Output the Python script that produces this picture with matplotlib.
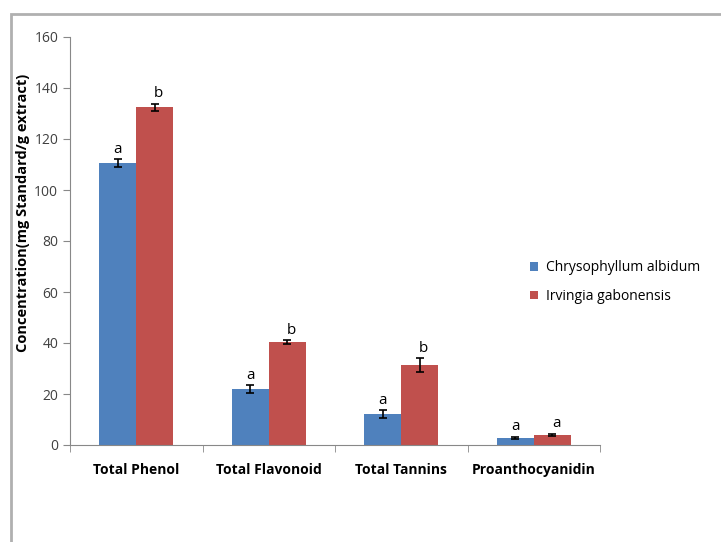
import matplotlib.pyplot as plt
import numpy as np
from matplotlib.patches import Rectangle

categories = ['Total Phenol', 'Total Flavonoid', 'Total Tannins', 'Proanthocyanidin']
series_names = ['Chrysophyllum albidum', 'Irvingia gabonensis']
albidum = [110.6, 22.0, 12.2, 2.7]
albidum_err = [1.5, 1.5, 1.5, 0.5]
gabonensis = [132.4, 40.4, 31.4, 3.9]
gabonensis_err = [1.5, 0.6, 2.6, 0.5]
albidum_letters = ['a', 'a', 'a', 'a']
gabonensis_letters = ['b', 'b', 'b', 'a']

blue = '#4f81bd'
red = '#c0504d'
grey = '#888888'

plt.rcParams['font.family'] = ['Open Sans', 'DejaVu Sans']

fig = plt.figure(figsize=(7.21, 5.42), dpi=100)
ax = fig.add_axes([70/721, 97/542, 530/721, 408/542])

# outer chart border
fig.patches.append(Rectangle((11/721, -0.1), 1.2, 1.1 - 14/542, transform=fig.transFigure,
                             fill=False, edgecolor='#b0b0b0', linewidth=2))

x = np.arange(len(categories))
w = 0.28
ax.bar(x - w/2, albidum, w, color=blue, label=series_names[0],
       yerr=albidum_err, capsize=3, error_kw=dict(ecolor='black', elinewidth=1.2, capthick=1.2))
ax.bar(x + w/2, gabonensis, w, color=red, label=series_names[1],
       yerr=gabonensis_err, capsize=3, error_kw=dict(ecolor='black', elinewidth=1.2, capthick=1.2))

for i in range(len(categories)):
    ax.text(x[i] - w/2, albidum[i] + albidum_err[i] + 1.0, albidum_letters[i],
            ha='center', va='bottom', fontsize=11)
    ax.text(x[i] + w/2 + 0.03, gabonensis[i] + gabonensis_err[i] + 1.0, gabonensis_letters[i],
            ha='center', va='bottom', fontsize=11)

ax.set_xlim(-0.5, len(categories) - 0.5)
ax.set_ylim(0, 160)
ax.set_yticks(np.arange(0, 161, 20))
ax.set_xticks(x)
ax.set_xticklabels(categories, fontsize=10, fontweight='bold')
ax.set_xticks(np.arange(-0.5, len(categories), 1), minor=True)
ax.tick_params(axis='x', which='major', length=0, pad=13)
ax.tick_params(axis='x', which='minor', length=5, color=grey, direction='out')
ax.tick_params(axis='y', length=5, color=grey, labelsize=10, labelcolor='#404040')

for s in ['top', 'right']:
    ax.spines[s].set_visible(False)
for s in ['left', 'bottom']:
    ax.spines[s].set_color(grey)

fig.text(23/721, 1 - 213/542, 'Concentration(mg Standard/g extract)', rotation=90,
         ha='center', va='center', fontsize=10.5, fontweight='bold')

ax.legend(loc='center left', bbox_to_anchor=(517/721, 1 - 282/542), bbox_transform=fig.transFigure,
          frameon=False, fontsize=10, handlelength=0.6, handleheight=0.6, handletextpad=0.6,
          labelspacing=1.0)

fig.savefig('out.png', dpi=100)
